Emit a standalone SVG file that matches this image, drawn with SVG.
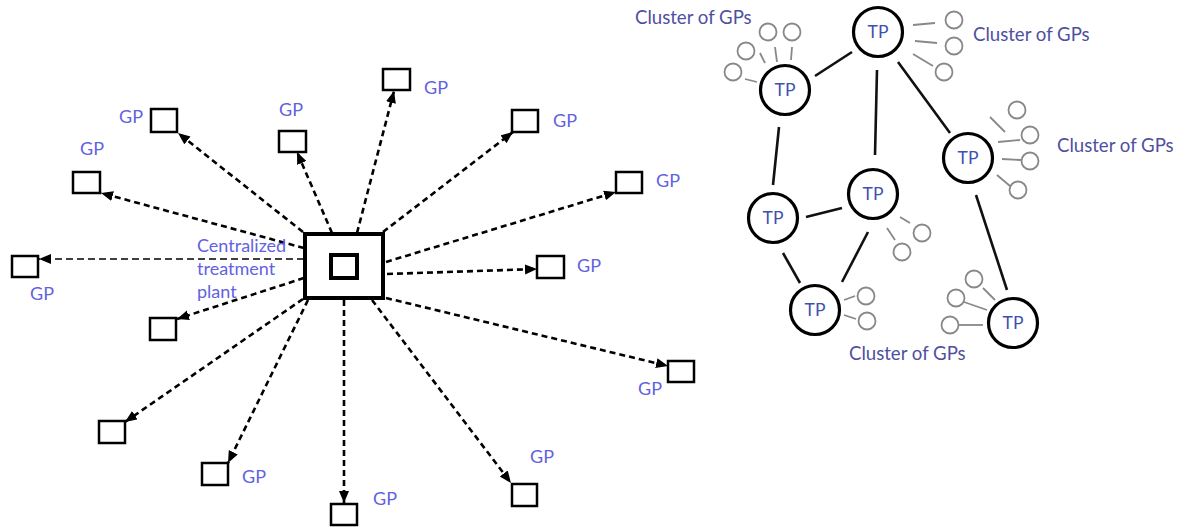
<svg xmlns="http://www.w3.org/2000/svg" width="1186" height="527" viewBox="0 0 1186 527">
<style>
.bg{fill:#fff}
.gp{fill:#fff;stroke:#000;stroke-width:2.5}
.lbl{font-family:Lato,"Liberation Sans",sans-serif;font-size:18px;fill:#6262e0}
.cl{font-family:Lato,"Liberation Sans",sans-serif;font-size:18.6px;fill:#4f4fa0}
.tpt{font-family:Lato,"Liberation Sans",sans-serif;font-size:17.5px;fill:#3f4fb0;text-anchor:middle}
.dl{stroke:#000;stroke-width:2.6;stroke-dasharray:6 4;fill:none}
.dt{stroke:#000;stroke-width:1.5;stroke-dasharray:7 4;fill:none}
.tp{fill:#fff;stroke:#000;stroke-width:3.2}
.e{stroke:#111;stroke-width:2.6}
.g{fill:#fff;stroke:#888;stroke-width:1.8}
.gl{stroke:#888;stroke-width:1.8}
</style>
<defs>
<marker id="ah" markerUnits="userSpaceOnUse" markerWidth="14" markerHeight="12" refX="12" refY="5" orient="auto">
<path d="M0,0 L12,5 L0,10 Z" fill="#000"/>
</marker>
</defs>
<rect class="bg" width="1186" height="527"/>

<g id="connectors">
<line class="dl" x1="303" y1="232" x2="178" y2="133" marker-end="url(#ah)"/>
<line class="dl" x1="304" y1="248" x2="101" y2="193" marker-end="url(#ah)"/>
<line class="dt" x1="304" y1="259" x2="39" y2="259" marker-end="url(#ah)"/>
<line class="dl" x1="304" y1="278" x2="177" y2="319" marker-end="url(#ah)"/>
<line class="dl" x1="303" y1="299" x2="125" y2="422" marker-end="url(#ah)"/>
<line class="dl" x1="308" y1="300" x2="228" y2="463" marker-end="url(#ah)"/>
<line class="dl" x1="344" y1="300" x2="344" y2="503" marker-end="url(#ah)"/>
<line class="dl" x1="372" y1="300" x2="511" y2="483" marker-end="url(#ah)"/>
<line class="dl" x1="386" y1="298" x2="668" y2="366" marker-end="url(#ah)"/>
<line class="dl" x1="387" y1="274" x2="537" y2="269" marker-end="url(#ah)"/>
<line class="dl" x1="386" y1="262" x2="616" y2="192" marker-end="url(#ah)"/>
<line class="dl" x1="383" y1="232" x2="513" y2="132" marker-end="url(#ah)"/>
<line class="dl" x1="357" y1="233" x2="394" y2="91" marker-end="url(#ah)"/>
<line class="dl" x1="332" y1="233" x2="297" y2="152" marker-end="url(#ah)"/>

<line class="e" x1="815" y1="76" x2="852" y2="52"/>
<line class="e" x1="877" y1="70" x2="875" y2="155"/>
<line class="e" x1="898" y1="62" x2="950" y2="133"/>
<line class="e" x1="779" y1="127" x2="773" y2="185"/>
<line class="e" x1="806" y1="217" x2="842" y2="208"/>
<line class="e" x1="783" y1="253" x2="800" y2="283"/>
<line class="e" x1="868" y1="232" x2="842" y2="282"/>
<line class="e" x1="976" y1="195" x2="1007" y2="290"/>
</g>

<g id="central-plant">
<rect x="305" y="234" width="78" height="64" fill="#fff" stroke="#000" stroke-width="4"/>
<rect x="331" y="255" width="26" height="23" fill="#fff" stroke="#000" stroke-width="4"/>
<text class="lbl" x="197" y="252">Centralized</text>
<text class="lbl" x="197" y="275">treatment</text>
<text class="lbl" x="197" y="298">plant</text>
</g>

<g id="gp1"><rect class="gp" x="151" y="109" width="26" height="23"/><text class="lbl" x="119" y="123">GP</text></g>
<g id="gp2"><rect class="gp" x="73" y="172" width="27" height="21"/><text class="lbl" x="80" y="155">GP</text></g>
<g id="gp3"><rect class="gp" x="12" y="256" width="26" height="21"/><text class="lbl" x="30" y="300">GP</text></g>
<g id="gp4"><rect class="gp" x="279" y="131" width="27" height="21"/><text class="lbl" x="279" y="116">GP</text></g>
<g id="gp5"><rect class="gp" x="383" y="69" width="27" height="21"/><text class="lbl" x="424" y="94">GP</text></g>
<g id="gp6"><rect class="gp" x="512" y="110" width="26" height="22"/><text class="lbl" x="553" y="127">GP</text></g>
<g id="gp7"><rect class="gp" x="616" y="172" width="26" height="21"/><text class="lbl" x="656" y="187">GP</text></g>
<g id="gp8"><rect class="gp" x="537" y="256" width="27" height="22"/><text class="lbl" x="577" y="272">GP</text></g>
<g id="gp9"><rect class="gp" x="668" y="361" width="26" height="21"/><text class="lbl" x="638" y="395">GP</text></g>
<g id="gp10"><rect class="gp" x="512" y="484" width="25" height="22"/><text class="lbl" x="530" y="463">GP</text></g>
<g id="gp11"><rect class="gp" x="331" y="504" width="26" height="21"/><text class="lbl" x="373" y="505">GP</text></g>
<g id="gp12"><rect class="gp" x="202" y="463" width="26" height="22"/><text class="lbl" x="242" y="483">GP</text></g>
<g id="gp13"><rect class="gp" x="99" y="421" width="26" height="22"/></g>
<g id="gp14"><rect class="gp" x="150" y="318" width="26" height="22"/></g>

<g id="cluster1">
<line class="gl" x1="745" y1="79" x2="757" y2="82"/>
<line class="gl" x1="760" y1="53" x2="765" y2="63"/>
<line class="gl" x1="775" y1="47" x2="777" y2="62"/>
<line class="gl" x1="792" y1="47" x2="791" y2="60"/>
<circle class="g" cx="733" cy="72" r="8.5"/>
<circle class="g" cx="746" cy="51" r="8.5"/>
<circle class="g" cx="768" cy="32" r="8.5"/>
<circle class="g" cx="792" cy="32" r="8.5"/>
<text class="cl" x="635" y="24">Cluster of GPs</text>
</g>
<g id="cluster2">
<line class="gl" x1="913" y1="25" x2="935" y2="23"/>
<line class="gl" x1="915" y1="41" x2="937" y2="43"/>
<line class="gl" x1="913" y1="54" x2="933" y2="66"/>
<circle class="g" cx="954" cy="20" r="8.5"/>
<circle class="g" cx="954" cy="46" r="8.5"/>
<circle class="g" cx="944" cy="72" r="8.5"/>
<text class="cl" x="973" y="41">Cluster of GPs</text>
</g>
<g id="cluster3">
<line class="gl" x1="990" y1="117" x2="1005" y2="132"/>
<line class="gl" x1="998" y1="142" x2="1020" y2="140"/>
<line class="gl" x1="1002" y1="159" x2="1021" y2="160"/>
<line class="gl" x1="997" y1="175" x2="1010" y2="186"/>
<circle class="g" cx="1017" cy="110" r="8.5"/>
<circle class="g" cx="1030" cy="135" r="8.5"/>
<circle class="g" cx="1030" cy="161" r="8.5"/>
<circle class="g" cx="1018" cy="190" r="8.5"/>
<text class="cl" x="1057" y="152">Cluster of GPs</text>
</g>
<g id="cluster4">
<line class="gl" x1="900" y1="217" x2="910" y2="223"/>
<line class="gl" x1="887" y1="228" x2="895" y2="240"/>
<circle class="g" cx="922" cy="233" r="8.5"/>
<circle class="g" cx="902" cy="252" r="8.5"/>
</g>
<g id="cluster5">
<line class="gl" x1="844" y1="300" x2="855" y2="296"/>
<line class="gl" x1="844" y1="315" x2="856" y2="319"/>
<circle class="g" cx="866" cy="296" r="8.5"/>
<circle class="g" cx="867" cy="321" r="8.5"/>
<text class="cl" x="849" y="360">Cluster of GPs</text>
</g>
<g id="cluster6">
<line class="gl" x1="983" y1="288" x2="995" y2="300"/>
<line class="gl" x1="964" y1="302" x2="987" y2="310"/>
<line class="gl" x1="959" y1="325" x2="983" y2="325"/>
<circle class="g" cx="974" cy="279" r="8.5"/>
<circle class="g" cx="956" cy="298" r="8.5"/>
<circle class="g" cx="950" cy="325" r="8.5"/>
</g>

<g id="tp1"><circle class="tp" cx="785" cy="90" r="24.5"/><text class="tpt" x="785" y="96">TP</text></g>
<g id="tp2"><circle class="tp" cx="878" cy="32" r="24.5"/><text class="tpt" x="878" y="38">TP</text></g>
<g id="tp3"><circle class="tp" cx="968" cy="158" r="24.5"/><text class="tpt" x="968" y="164">TP</text></g>
<g id="tp4"><circle class="tp" cx="773" cy="218" r="24.5"/><text class="tpt" x="773" y="224">TP</text></g>
<g id="tp5"><circle class="tp" cx="873" cy="194" r="24.5"/><text class="tpt" x="873" y="200">TP</text></g>
<g id="tp6"><circle class="tp" cx="815" cy="310" r="24.5"/><text class="tpt" x="815" y="316">TP</text></g>
<g id="tp7"><circle class="tp" cx="1013" cy="323" r="24.5"/><text class="tpt" x="1013" y="329">TP</text></g>
</svg>
